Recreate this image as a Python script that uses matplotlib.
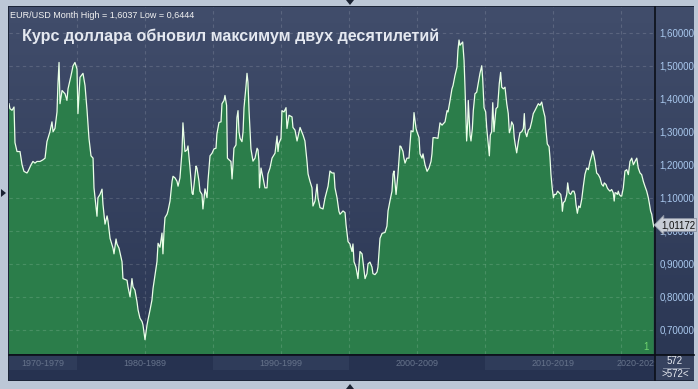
import numpy as np
import matplotlib
matplotlib.use("Agg")
import matplotlib.pyplot as plt
from matplotlib.colors import LinearSegmentedColormap
from matplotlib.patches import Rectangle, Polygon

W, H = 698, 389

# EUR/USD monthly (decimal year, rate)
years = [
    1975.00, 1975.07, 1975.22, 1975.37, 1975.44, 1975.59, 1975.81, 1975.96, 1976.10, 1976.32,
    1976.40, 1976.62, 1976.76, 1976.91, 1977.06, 1977.28, 1977.50, 1977.65, 1977.79, 1978.01,
    1978.16, 1978.24, 1978.38, 1978.53, 1978.60, 1978.68, 1978.75, 1978.90, 1979.12, 1979.26,
    1979.34, 1979.56, 1979.71, 1979.85, 1980.00, 1980.07, 1980.22, 1980.44, 1980.59, 1980.74,
    1980.88, 1981.03, 1981.18, 1981.25, 1981.47, 1981.54, 1981.69, 1981.84, 1981.91, 1982.06,
    1982.21, 1982.28, 1982.43, 1982.65, 1982.72, 1982.87, 1982.94, 1983.09, 1983.31, 1983.38,
    1983.68, 1983.75, 1983.90, 1984.04, 1984.12, 1984.26, 1984.41, 1984.49, 1984.63, 1984.78,
    1984.85, 1985.00, 1985.15, 1985.22, 1985.37, 1985.51, 1985.59, 1985.74, 1985.88, 1985.96,
    1986.10, 1986.25, 1986.32, 1986.40, 1986.47, 1986.62, 1986.69, 1986.84, 1986.99, 1987.06,
    1987.21, 1987.35, 1987.43, 1987.57, 1987.72, 1987.79, 1987.94, 1988.09, 1988.16, 1988.31,
    1988.46, 1988.53, 1988.75, 1988.82, 1988.97, 1989.04, 1989.19, 1989.26, 1989.41, 1989.56,
    1989.63, 1989.78, 1989.93, 1990.07, 1990.22, 1990.29, 1990.44, 1990.59, 1990.66, 1990.81,
    1990.88, 1991.00, 1991.06, 1991.18, 1991.32, 1991.40, 1991.47, 1991.54, 1991.69, 1991.76,
    1991.84, 1991.91, 1991.99, 1992.13, 1992.21, 1992.28, 1992.43, 1992.50, 1992.57, 1992.65,
    1992.79, 1992.94, 1993.09, 1993.24, 1993.31, 1993.38, 1993.42, 1993.53, 1993.68, 1993.82,
    1993.97, 1994.04, 1994.19, 1994.34, 1994.56, 1994.71, 1994.78, 1994.85, 1995.00, 1995.07,
    1995.22, 1995.37, 1995.44, 1995.59, 1995.81, 1995.88, 1996.03, 1996.18, 1996.40, 1996.62,
    1996.76, 1996.91, 1996.99, 1997.13, 1997.28, 1997.35, 1997.50, 1997.65, 1997.72, 1997.87,
    1998.09, 1998.24, 1998.46, 1998.60, 1998.75, 1998.90, 1998.97, 1999.12, 1999.26, 1999.34,
    1999.56, 1999.71, 1999.78, 1999.93, 2000.07, 2000.22, 2000.29, 2000.37, 2000.51, 2000.66,
    2000.74, 2000.81, 2000.96, 2001.03, 2001.18, 2001.32, 2001.40, 2001.54, 2001.69, 2001.76,
    2001.91, 2002.06, 2002.13, 2002.28, 2002.43, 2002.65, 2002.79, 2002.87, 2003.01, 2003.16,
    2003.24, 2003.31, 2003.46, 2003.53, 2003.60, 2003.75, 2003.82, 2003.97, 2004.04, 2004.12,
    2004.26, 2004.41, 2004.56, 2004.71, 2004.78, 2004.93, 2005.00, 2005.15, 2005.22, 2005.37,
    2005.44, 2005.59, 2005.74, 2005.88, 2006.03, 2006.10, 2006.18, 2006.32, 2006.54, 2006.69,
    2006.84, 2007.06, 2007.21, 2007.28, 2007.43, 2007.57, 2007.65, 2007.79, 2007.94, 2008.01,
    2008.09, 2008.16, 2008.36, 2008.46, 2008.53, 2008.60, 2008.65, 2008.73, 2008.77, 2008.85,
    2008.90, 2008.97, 2009.07, 2009.14, 2009.26, 2009.39, 2009.51, 2009.63, 2009.76, 2009.83,
    2009.93, 2010.05, 2010.13, 2010.24, 2010.32, 2010.39, 2010.49, 2010.57, 2010.66, 2010.74,
    2010.81, 2010.93, 2011.05, 2011.15, 2011.23, 2011.35, 2011.47, 2011.60, 2011.71, 2011.79,
    2011.89, 2011.96, 2012.08, 2012.15, 2012.23, 2012.33, 2012.45, 2012.57, 2012.70, 2012.82,
    2012.89, 2012.96, 2013.07, 2013.19, 2013.31, 2013.43, 2013.55, 2013.68, 2013.80, 2013.92,
    2014.04, 2014.17, 2014.29, 2014.41, 2014.49, 2014.58, 2014.71, 2014.78, 2014.85, 2014.95,
    2015.03, 2015.10, 2015.22, 2015.34, 2015.46, 2015.57, 2015.64, 2015.69, 2015.76, 2015.88,
    2016.01, 2016.08, 2016.18, 2016.30, 2016.42, 2016.54, 2016.62, 2016.69, 2016.79, 2016.89,
    2016.99, 2017.11, 2017.23, 2017.35, 2017.48, 2017.60, 2017.72, 2017.84, 2017.92, 2018.01,
    2018.09, 2018.21, 2018.33, 2018.46, 2018.58, 2018.70, 2018.77, 2018.90, 2018.99, 2019.07,
    2019.19, 2019.31, 2019.43, 2019.50, 2019.56, 2019.63, 2019.73, 2019.80, 2019.87, 2019.98,
    2020.05, 2020.17, 2020.29, 2020.42, 2020.54, 2020.66, 2020.79, 2020.91, 2021.03, 2021.16,
    2021.27, 2021.40, 2021.52, 2021.64, 2021.76, 2021.89, 2022.01, 2022.08, 2022.18, 2022.26,
    2022.33, 2022.41,
]
rate = [
    1.385, 1.370, 1.365, 1.375, 1.267, 1.240, 1.240, 1.200, 1.180, 1.175,
    1.180, 1.200, 1.210, 1.205, 1.210, 1.210, 1.215, 1.220, 1.270, 1.300,
    1.330, 1.300, 1.310, 1.360, 1.446, 1.510, 1.385, 1.425, 1.415, 1.395,
    1.430, 1.470, 1.500, 1.510, 1.490, 1.355, 1.465, 1.477, 1.440, 1.364,
    1.280, 1.227, 1.220, 1.130, 1.044, 1.100, 1.110, 1.126, 1.080, 1.020,
    1.045, 1.030, 0.977, 0.947, 0.930, 0.975, 0.960, 0.947, 0.906, 0.855,
    0.850, 0.830, 0.800, 0.855, 0.830, 0.820, 0.785, 0.760, 0.735, 0.725,
    0.715, 0.670, 0.715, 0.730, 0.760, 0.790, 0.825, 0.867, 0.906, 0.962,
    0.950, 0.993, 0.930, 1.000, 1.040, 1.050, 1.060, 1.090, 1.150, 1.165,
    1.160, 1.150, 1.135, 1.160, 1.240, 1.327, 1.240, 1.245, 1.257, 1.190,
    1.114, 1.110, 1.196, 1.190, 1.150, 1.120, 1.110, 1.066, 1.127, 1.100,
    1.150, 1.227, 1.235, 1.248, 1.250, 1.294, 1.328, 1.330, 1.385, 1.395,
    1.410, 1.380, 1.220, 1.215, 1.210, 1.157, 1.200, 1.250, 1.260, 1.343,
    1.364, 1.300, 1.280, 1.270, 1.300, 1.373, 1.440, 1.477, 1.450, 1.364,
    1.248, 1.211, 1.220, 1.250, 1.245, 1.210, 1.130, 1.190, 1.160, 1.130,
    1.130, 1.172, 1.190, 1.220, 1.235, 1.287, 1.240, 1.265, 1.280, 1.364,
    1.360, 1.373, 1.310, 1.350, 1.345, 1.313, 1.305, 1.272, 1.313, 1.290,
    1.272, 1.211, 1.172, 1.150, 1.130, 1.075, 1.090, 1.141, 1.100, 1.070,
    1.066, 1.100, 1.135, 1.181, 1.175, 1.175, 1.130, 1.100, 1.059, 1.050,
    1.060, 1.055, 1.019, 0.967, 0.960, 0.937, 0.960, 0.906, 0.890, 0.855,
    0.900, 0.937, 0.930, 0.906, 0.855, 0.870, 0.900, 0.905, 0.890, 0.870,
    0.867, 0.875, 0.890, 0.977, 0.992, 0.995, 1.014, 1.060, 1.090, 1.120,
    1.172, 1.181, 1.110, 1.140, 1.172, 1.257, 1.255, 1.240, 1.220, 1.205,
    1.220, 1.220, 1.303, 1.300, 1.358, 1.310, 1.300, 1.282, 1.233, 1.220,
    1.233, 1.200, 1.180, 1.190, 1.210, 1.233, 1.282, 1.282, 1.280, 1.327,
    1.320, 1.330, 1.364, 1.360, 1.395, 1.430, 1.440, 1.470, 1.496, 1.547,
    1.578, 1.562, 1.572, 1.516, 1.434, 1.340, 1.272, 1.330, 1.395, 1.330,
    1.290, 1.272, 1.310, 1.364, 1.415, 1.420, 1.449, 1.477, 1.500, 1.460,
    1.373, 1.360, 1.310, 1.263, 1.227, 1.290, 1.300, 1.388, 1.300, 1.340,
    1.370, 1.375, 1.446, 1.480, 1.435, 1.430, 1.435, 1.385, 1.355, 1.297,
    1.310, 1.330, 1.320, 1.282, 1.260, 1.236, 1.270, 1.297, 1.300, 1.310,
    1.355, 1.300, 1.285, 1.305, 1.310, 1.330, 1.355, 1.365, 1.375, 1.385,
    1.380, 1.390, 1.365, 1.345, 1.303, 1.263, 1.255, 1.220, 1.171, 1.126,
    1.100, 1.110, 1.110, 1.120, 1.115, 1.110, 1.090, 1.059, 1.085, 1.090,
    1.110, 1.145, 1.115, 1.110, 1.120, 1.120, 1.110, 1.080, 1.053, 1.075,
    1.070, 1.095, 1.135, 1.171, 1.190, 1.185, 1.210, 1.227, 1.242, 1.227,
    1.210, 1.175, 1.170, 1.160, 1.141, 1.135, 1.145, 1.140, 1.130, 1.125,
    1.120, 1.125, 1.115, 1.090, 1.115, 1.115, 1.110, 1.120, 1.110, 1.105,
    1.105, 1.130, 1.181, 1.185, 1.170, 1.210, 1.220, 1.200, 1.210, 1.220,
    1.190, 1.175, 1.170, 1.150, 1.135, 1.120, 1.100, 1.084, 1.059, 1.050,
    1.030, 1.012,
]

y_ticks = [0.7, 0.8, 0.9, 1.0, 1.1, 1.2, 1.3, 1.4, 1.5, 1.6]
decades = ["1970-1979", "1980-1989", "1990-1999", "2000-2009", "2010-2019", "2020-2029"]
decade_start = [1970, 1980, 1990, 2000, 2010, 2020]
last_price = "1,01172"
title = "Курс доллара обновил максимум двух десятилетий"
header = "EUR/USD Month High = 1,6037 Low = 0,6444"
bar_count = "572"

X0, X1 = 1975.0, 2022.5
Y0, Y1 = 0.6265, 1.678


def px_box(x0, y0, x1, y1):
    """pixel box (from top-left) -> figure rect"""
    return [x0 / W, 1 - y1 / H, (x1 - x0) / W, (y1 - y0) / H]


def fx(x):
    return x / W


def fy(y):
    return 1 - y / H


plt.rcParams['font.family'] = ['Liberation Sans', 'DejaVu Sans']

fig = plt.figure(figsize=(W / 100, H / 100), dpi=100)
fig.patch.set_facecolor('#bcc7d6')

# outer dark frame (behind everything)
fig.patches.append(Rectangle((fx(8), fy(381)), fx(694) - fx(8), fy(6) - fy(381),
                             transform=fig.transFigure, facecolor='#1c2538',
                             edgecolor='none', zorder=-5))

# gradient background for plot + price panel
bgax = fig.add_axes(px_box(9, 7, 694, 354))
bgax.set_zorder(-1)
grad = LinearSegmentedColormap.from_list('bg', ['#414d6b', '#2b3754'])
bgax.imshow(np.linspace(0, 1, 256)[:, None], cmap=grad, aspect='auto',
            extent=[0, 1, 0, 1], origin='upper')
bgax.set_axis_off()

ax = fig.add_axes(px_box(9, 7, 655, 354))
ax.set_facecolor('none')
ax.fill_between(years, rate, Y0 - 1, color='#2b7d4a', lw=0, zorder=1)
ax.plot(years, rate, color='#eaffe8', lw=0.9, zorder=3)
ax.set_xlim(X0, X1)
ax.set_ylim(Y0, Y1)
ax.set_xticks(np.arange(1980, 2021, 5))
ax.set_xticklabels([])
ax.set_yticks(y_ticks)
ax.set_yticklabels([f"{v:.5f}".replace('.', ',') for v in y_ticks])
ax.yaxis.tick_right()
ax.tick_params(axis='both', length=0)
ax.tick_params(axis='y', pad=3, labelsize=7, labelcolor='#a9c8ee')
ax.grid(True, color='white', alpha=0.14, ls=(0, (3, 3)), lw=0.8, zorder=2)
ax.set_axisbelow(False)
for s in ax.spines.values():
    s.set_visible(False)

# bottom decade bar
bar = fig.add_axes(px_box(9, 355, 655, 380))
bar.set_facecolor('#263250')
bar.set_xlim(X0, X1)
bar.set_ylim(0, 1)
for i, (lab, d0) in enumerate(zip(decades, decade_start)):
    a, b = max(d0, X0), min(d0 + 10, X1)
    if i % 2 == 0:
        bar.axvspan(a, b, ymin=0.42, ymax=1, color='#2f3c5a', lw=0)
    bar.text((a + b) / 2, 0.66, lab, ha='center', va='center', fontsize=6.5,
             color='#66738b', clip_on=True)
bar.set_xticks([])
bar.set_yticks([])
for s in bar.spines.values():
    s.set_visible(False)

# price panel box at bottom right
fig.patches.append(Rectangle((fx(655), fy(380)), fx(694) - fx(655), fy(355) - fy(380),
                             transform=fig.transFigure, facecolor='#36425f',
                             edgecolor='none', zorder=1))
fig.text(fx(675), fy(361), bar_count, ha='center', va='center', fontsize=7, color='#e6e9f0',
         zorder=4)
fig.text(fx(675), fy(374), '>' + bar_count + '<', ha='center', va='center', fontsize=7,
         color='#e6e9f0', zorder=4)
fig.lines.append(plt.Line2D([fx(663), fx(689)], [fy(368), fy(368)], transform=fig.transFigure,
                            color='#8a94a8', lw=0.6, zorder=4))

# separator lines
fig.lines.append(plt.Line2D([fx(655), fx(655)], [fy(7), fy(380)], transform=fig.transFigure,
                            color='#0b0f18', lw=1.2, zorder=5))
fig.lines.append(plt.Line2D([fx(9), fx(694)], [fy(354.5), fy(354.5)], transform=fig.transFigure,
                            color='#0b0f18', lw=1.2, zorder=5))

# last price marker
fig.text(fx(661), fy(225), last_price, ha='left', va='center', fontsize=7, color='#111111',
         bbox=dict(boxstyle='larrow,pad=0.15', facecolor='#c8cdd6', edgecolor='#8a92a2', lw=0.6),
         zorder=6)

# texts
fig.text(fx(10), fy(18.5), header, ha='left', va='baseline', fontsize=6.5, color='#f2f2f2',
         zorder=4)
fig.text(fx(22), fy(41), title, ha='left', va='baseline', fontsize=11.6, fontweight='bold',
         color='#e4e8f0', zorder=4)
fig.text(fx(643), fy(350), '1', ha='left', va='baseline', fontsize=7, color='#6fd46f',
         zorder=4)

# little navigation arrows on the frame
for pts in ([(346, 0), (354, 0), (350, 5)],
            [(346, 389), (354, 389), (350, 384)],
            [(1, 189), (1, 197), (6, 193)]):
    fig.patches.append(Polygon([(fx(a), fy(b)) for a, b in pts], closed=True,
                               transform=fig.transFigure, facecolor='#1a2232',
                               edgecolor='none', zorder=4))

fig.savefig('out.png', dpi=100)
